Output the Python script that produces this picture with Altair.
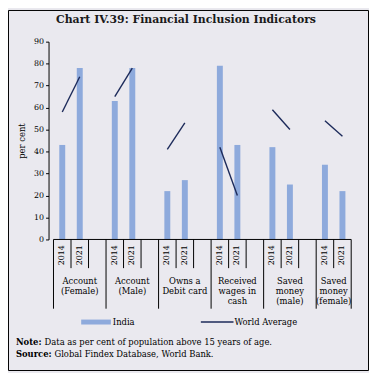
import altair as alt
import pandas as pd

# ---- data ----
categories = ["Account\n(Female)", "Account\n(Male)", "Owns a\nDebit card",
              "Received\nwages in\ncash", "Saved\nmoney\n(male)", "Saved\nmoney\n(female)"]
years = ["2014", "2021"]
india_2014 = [43, 63, 22, 79, 42, 34]
india_2021 = [78, 78, 27, 43, 25, 22]
world_2014 = [58, 65, 41, 42, 59, 54]
world_2021 = [74, 78, 53, 20, 50, 47]
y_ticks = [0, 10, 20, 30, 40, 50, 60, 70, 80, 90]

TITLE = "Chart IV.39: Financial Inclusion Indicators"
NOTE_B = "Note:"
NOTE = "Data as per cent of population above 15 years of age."
SOURCE_B = "Source:"
SOURCE = "Global Findex Database, World Bank."

BAR = "#8eaadc"
LINE = "#1c2a5a"
BG = "#eae9ef"
FONT = "DejaVu Serif"

# layout
L, T, W, H = 41, 32, 311, 200
TOTAL = 365
R = TOTAL - L - W
B = TOTAL - T - H
N_SLOTS = 3 * (len(categories) - 1) + 2

rows = []
for g, cat in enumerate(categories):
    for yi, yr in enumerate(years):
        rows.append({
            "group": g, "cat": cat, "year": yr,
            "pos": g * 3 + yi + 0.5,
            "india": [india_2014, india_2021][yi][g],
            "world": [world_2014, world_2021][yi][g],
        })
df = pd.DataFrame(rows)

groups = pd.DataFrame({
    "cat": categories,
    "center": [g * 3 + (1.5 if g < len(categories) - 1 else 1.0) for g in range(len(categories))],
})

bounds = pd.DataFrame({"b": list(range(N_SLOTS + 1))})
bounds["long"] = bounds["b"].apply(lambda b: b % 3 == 0 or b == N_SLOTS)

xs = alt.Scale(domain=[0, N_SLOTS], nice=False, zero=False)
ys = alt.Scale(domain=[0, 90], nice=False)
yaxis = alt.Axis(
    values=y_ticks, grid=False, tickSize=3, tickColor="black", domainColor="black",
    labelFont=FONT, labelFontSize=8, labelColor="black", labelPadding=2,
    labelOverlap=False, labelFlush=False,
    title="per cent", titleFont=FONT, titleFontSize=8.5, titleFontWeight="normal",
    titleColor="black", titlePadding=7)

base = alt.Chart(df)

bars = base.mark_bar(color=BAR, size=6).encode(
    x=alt.X("pos:Q", scale=xs, axis=None),
    y=alt.Y("india:Q", scale=ys, axis=yaxis),
)

lines = base.mark_line(color=LINE, strokeWidth=1.4).encode(
    x=alt.X("pos:Q", scale=xs, axis=None), y=alt.Y("world:Q", scale=ys, axis=yaxis), detail="group:N"
)

xdomain = alt.Chart(pd.DataFrame({"a": [0], "b": [N_SLOTS]})).mark_rule(color="black", strokeWidth=1).encode(
    x=alt.X("a:Q", scale=xs, axis=None), x2="b:Q", y=alt.value(H)
)

short_rules = alt.Chart(bounds).transform_filter("!datum.long").mark_rule(color="black", strokeWidth=1).encode(
    x=alt.X("b:Q", scale=xs, axis=None), y=alt.value(H), y2=alt.value(H + 29)
)
long_rules = alt.Chart(bounds).transform_filter("datum.long").mark_rule(color="black", strokeWidth=1).encode(
    x=alt.X("b:Q", scale=xs, axis=None), y=alt.value(H), y2=alt.value(H + 70)
)

year_text = base.mark_text(angle=270, font=FONT, fontSize=8, color="black", align="center", baseline="middle").encode(
    x=alt.X("pos:Q", scale=xs, axis=None), y=alt.value(H + 16), text="year:N"
)

cat_text = alt.Chart(groups).mark_text(font=FONT, fontSize=8.5, color="black", align="center",
                                        baseline="middle", lineBreak="\n", lineHeight=10).encode(
    x=alt.X("center:Q", scale=xs, axis=None), y=alt.value(H + 42), text="cat:N"
)

# legend
leg_swatch = alt.Chart(pd.DataFrame({"t": ["India"]})).mark_rect(color=BAR).encode(
    x=alt.value(82 - 49), x2=alt.value(112 - 49), y=alt.value(321 - 40), y2=alt.value(326 - 40)
)
leg_line = alt.Chart(pd.DataFrame({"t": ["World Average"]})).mark_rule(color=LINE, strokeWidth=1.5).encode(
    x=alt.value(203 - 49), x2=alt.value(236 - 49), y=alt.value(323.5 - 40)
)
leg_text = alt.Chart(pd.DataFrame({"t": ["India", "World Average"], "x": [114 - 49, 237 - 49]})).mark_text(
    font=FONT, fontSize=8.5, color="black", align="left", baseline="middle").encode(
    x=alt.X("x:Q", scale=None), y=alt.value(323.5 - 40), text="t:N"
)

# title & notes
title = alt.Chart(pd.DataFrame({"t": [TITLE]})).mark_text(
    font=FONT, fontSize=11, fontWeight="bold", color="#1a1a1a", align="center", baseline="middle").encode(
    x=alt.value(188 - 49), y=alt.value(18 - 40), text="t:N"
)
note_b = alt.Chart(pd.DataFrame({"t": [NOTE_B, SOURCE_B], "y": [344 - 40, 356 - 40]})).mark_text(
    font=FONT, fontSize=8.5, fontWeight="bold", color="black", align="left", baseline="middle").encode(
    x=alt.value(16 - 49), y=alt.Y("y:Q", scale=None), text="t:N"
)
note_t = alt.Chart(pd.DataFrame({"t": [NOTE, SOURCE], "y": [344 - 40, 356 - 40], "x": [45 - 49, 55 - 49]})).mark_text(
    font=FONT, fontSize=8.5, color="black", align="left", baseline="middle").encode(
    x=alt.X("x:Q", scale=None), y=alt.Y("y:Q", scale=None), text="t:N"
)

border = alt.Chart(pd.DataFrame({"t": [0]})).mark_rect(fill=None, stroke="black", strokeWidth=1).encode(
    x=alt.value(-L + 0.5), x2=alt.value(W + R - 0.5), y=alt.value(-T + 0.5), y2=alt.value(H + B - 0.5)
)

chart = alt.layer(
    bars, lines, xdomain, short_rules, long_rules, year_text, cat_text,
    leg_swatch, leg_line, leg_text, title, note_b, note_t, border
).properties(
    width=W, height=H, padding={"left": L, "top": T, "right": R, "bottom": B},
    autosize=alt.AutoSizeParams(type="none"), background=BG
).configure_view(stroke=None)

chart.save("out.html", embed_options={"renderer": "svg", "actions": False})
